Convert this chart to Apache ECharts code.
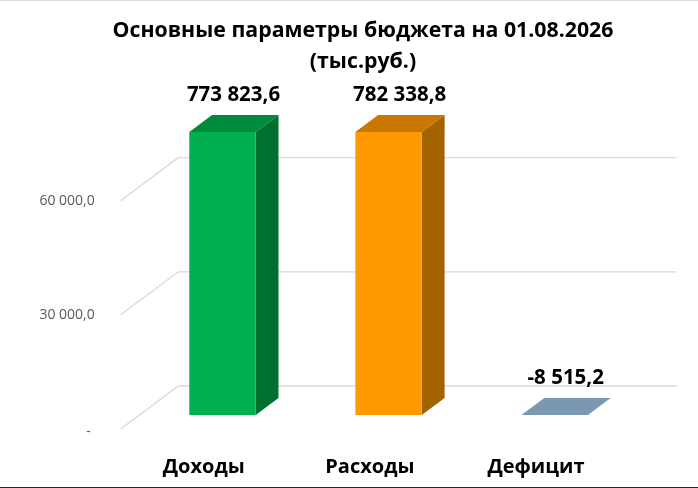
<!DOCTYPE html>
<html>
<head>
<meta charset="utf-8">
<script src="https://cdn.jsdelivr.net/npm/echarts@6/dist/echarts.min.js"></script>
<style>html,body{margin:0;padding:0;background:#fff}#c{width:698px;height:488px}</style>
</head>
<body>
<div id="c"></div>
<script>
// ---- data ----
const categories = ['Доходы', 'Расходы', 'Дефицит'];
const values = [773823.6, 782338.8, -8515.2];
const tickValues = [0, 30000, 60000];
const titleText = 'Основные параметры бюджета на 01.08.2026\n(тыс.руб.)';

// ---- styles ----
const frontColors = ['#00b050', '#ff9900', '#7a98b2'];
const topColors = ['#008a3c', '#c87800', '#7a98b2'];
const sideColors = ['#007030', '#a36400', '#5f7a92'];
const AXIS_MIN = 0, AXIS_MAX = 74400;
const WALL = [57.6, -43];          // depth offset of back wall
const BAR_FRONT = 14 / 43;          // bar front plane as fraction of depth
const BAR_DEPTH = 17 / 43;          // bar depth as fraction of depth
const FONT = '"Open Sans", "Noto Sans", sans-serif';

function fmt(v) {
  const s = Math.abs(v).toFixed(1).split('.');
  const g = s[0].replace(/\B(?=(\d{3})+(?!\d))/g, ' ');
  return (v < 0 ? '-' : '') + g + ',' + s[1];
}

const chart = echarts.init(document.getElementById('c'), null, {renderer: 'canvas'});

const option = {
  animation: false,
  backgroundColor: '#ffffff',
  title: {
    text: titleText,
    left: 358,
    textAlign: 'center',
    top: 10,
    textStyle: {fontFamily: FONT, fontWeight: 'bold', fontSize: 21.3, color: '#000', lineHeight: 31}
  },
  grid: {left: 120.7, right: 79, top: 145.9, bottom: 59, containLabel: false},
  xAxis: {
    type: 'category',
    data: categories,
    axisLine: {show: false},
    axisTick: {show: false},
    splitLine: {show: false},
    axisLabel: {margin: 28, fontFamily: FONT, fontWeight: 'bold', fontSize: 20, color: '#000'}
  },
  yAxis: {
    type: 'value',
    min: AXIS_MIN,
    max: AXIS_MAX,
    interval: 30000,
    axisLine: {show: false},
    axisTick: {show: false},
    splitLine: {show: false},
    axisLabel: {
      showMaxLabel: false,
      margin: 26,
      fontFamily: FONT,
      fontSize: 14,
      color: '#595959',
      formatter: v => v === 0 ? '{d|-}' : fmt(v),
      rich: {d: {fontFamily: FONT, fontSize: 14, color: '#595959', padding: [6, 4, 0, 0]}}
    }
  },
  graphic: [
    {type: 'line', shape: {x1: 0, y1: 0.5, x2: 698, y2: 0.5}, style: {stroke: '#d9d9d9', lineWidth: 1}},
    {type: 'line', shape: {x1: 0, y1: 487.5, x2: 698, y2: 487.5}, style: {stroke: '#262626', lineWidth: 1}}
  ],
  series: [
    {
      type: 'custom',
      name: 'grid',
      z: 1,
      silent: true,
      data: tickValues.map(v => [0, v]),
      renderItem: function (params, api) {
        const cs = params.coordSys;
        const y = api.coord([0, api.value(1)])[1];
        return {
          type: 'polyline',
          shape: {points: [[cs.x, y], [cs.x + WALL[0], y + WALL[1]], [cs.x + cs.width + WALL[0], y + WALL[1]]]},
          style: {stroke: '#d9d9d9', lineWidth: 1.3, fill: null}
        };
      }
    },
    {
      type: 'custom',
      name: 'bars',
      z: 5,
      data: values.map((v, i) => [i, v]),
      renderItem: function (params, api) {
        const i = api.value(0);
        const raw = api.value(1);
        const v = Math.max(AXIS_MIN, Math.min(AXIS_MAX, raw));
        const base = api.coord([i, 0]);
        const top = api.coord([i, v]);
        const band = api.size([1, 0])[0];
        const w = band * 0.4;
        const fx = WALL[0] * BAR_FRONT, fy = WALL[1] * BAR_FRONT;
        const dx = WALL[0] * BAR_DEPTH, dy = WALL[1] * BAR_DEPTH;
        const x0 = base[0] - w / 2 + fx, x1 = x0 + w;
        const yb = base[1] + fy, yt = top[1] + fy;
        const children = [];
        if (yb - yt > 0.5) {
          children.push({type: 'polygon', shape: {points: [[x1, yt], [x1 + dx, yt + dy], [x1 + dx, yb + dy], [x1, yb]]}, style: {fill: sideColors[i]}});
          children.push({type: 'rect', shape: {x: x0, y: yt, width: w, height: yb - yt}, style: {fill: frontColors[i]}});
        }
        children.push({type: 'polygon', shape: {points: [[x0, yt], [x1, yt], [x1 + dx, yt + dy], [x0 + dx, yt + dy]]}, style: {fill: topColors[i]}});
        children.push({
          type: 'text',
          style: {
            text: fmt(raw), x: x0 + w / 2 + 11, y: yt + dy - 19.5,
            align: 'center', verticalAlign: 'middle',
            fontFamily: FONT, fontWeight: 'bold', fontSize: 20.5, fill: '#000'
          }
        });
        return {type: 'group', children: children};
      }
    }
  ]
};
chart.setOption(option);
</script>
</body>
</html>
